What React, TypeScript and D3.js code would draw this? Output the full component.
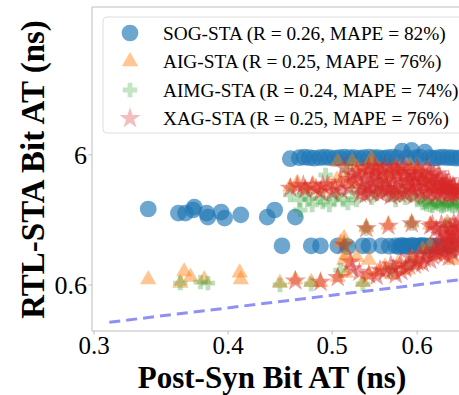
import { useEffect, useRef } from 'react';
import * as d3 from 'd3';

type Pt = [number, number];

// tick labels
const xTicks = [0.3, 0.4, 0.5, 0.6];
const yTicks = [0.6, 6];

const seriesNames = [
  'SOG-STA (R = 0.26, MAPE = 82%)',
  'AIG-STA (R = 0.25, MAPE = 76%)',
  'AIMG-STA (R = 0.24, MAPE = 74%)',
  'XAG-STA (R = 0.25, MAPE = 76%)',
];

// SOG-STA points (post-syn, rtl-sta)
const sogPts: Pt[] = [
  [0.457, 5.6], [0.466, 5.7], [0.471, 5.75], [0.476, 5.7], [0.481, 5.65], [0.487, 5.7],
  [0.492, 5.75], [0.497, 5.7], [0.503, 5.65], [0.508, 5.7], [0.513, 5.75], [0.519, 5.7],
  [0.524, 5.7], [0.53, 5.65], [0.535, 5.7], [0.541, 5.75], [0.547, 5.7], [0.552, 5.7],
  [0.558, 5.65], [0.563, 5.7], [0.569, 5.75], [0.575, 5.7], [0.581, 6.4], [0.587, 5.7],
  [0.593, 6.5], [0.598, 5.7], [0.604, 5.75], [0.61, 6.3], [0.616, 5.7], [0.622, 5.65],
  [0.628, 5.7], [0.634, 5.75], [0.64, 5.7], [0.646, 5.7], [0.652, 5.65], [0.658, 5.7],
  [0.337, 2.3], [0.3595, 2.14], [0.365, 2.14], [0.371, 2.26], [0.372, 2.38], [0.382, 2.14],
  [0.383, 1.99], [0.394, 2.18], [0.397, 1.96], [0.411, 2.07], [0.435, 1.99], [0.442, 2.26],
  [0.462, 1.99],
  [0.449, 1.2], [0.478, 1.2], [0.4876, 1.2], [0.506, 1.2], [0.517, 1.18], [0.534, 1.2],
  [0.541, 1.2], [0.556, 1.2], [0.565, 1.19], [0.573, 1.2], [0.577, 1.18], [0.58, 1.21],
  [0.583, 1.19], [0.586, 1.2], [0.59, 1.18], [0.593, 1.21], [0.596, 1.2], [0.599, 1.19],
  [0.603, 1.2], [0.606, 1.21], [0.609, 1.19], [0.612, 1.2], [0.616, 1.19], [0.619, 1.2],
  [0.625, 1.2], [0.632, 1.19], [0.639, 1.2], [0.646, 1.2],
];

// AIG-STA points
const aigPts: Pt[] = [
  [0.337, 0.66], [0.361, 0.62], [0.364, 0.76], [0.369, 0.69], [0.38, 0.66], [0.41, 0.745],
  [0.411, 0.66],
  [0.447, 0.62], [0.462, 0.66], [0.478, 0.63], [0.4876, 0.63], [0.506, 0.69], [0.515, 0.74],
  [0.513, 0.93], [0.534, 0.63], [0.509, 1.27], [0.515, 1.02], [0.513, 1.37], [0.527, 0.98],
  [0.541, 0.93], [0.551, 0.76], [0.56, 0.83], [0.569, 0.72], [0.576, 0.88], [0.585, 0.78],
  [0.593, 0.97], [0.6, 0.855], [0.541, 0.72], [0.607, 1.12], [0.617, 1.22], [0.63, 1.02],
  [0.64, 1.27], [0.647, 0.93], [0.654, 1.15],
  [0.538, 1.66], [0.564, 1.74], [0.593, 1.8], [0.617, 1.74], [0.64, 1.8],
  [0.457, 3.4], [0.464, 3.65], [0.472, 3.33], [0.48, 3.53], [0.4876, 3.23], [0.497, 3.53],
  [0.505, 3.85], [0.513, 4.0], [0.522, 3.6], [0.527, 4.8], [0.536, 4.5], [0.544, 5.0],
  [0.554, 4.6], [0.563, 4.2], [0.573, 4.8], [0.58, 4.5], [0.591, 4.95], [0.6, 4.6],
  [0.608, 4.05], [0.619, 3.53], [0.63, 3.35], [0.64, 3.53], [0.65, 3.23],
  [0.506, 5.3], [0.522, 5.3], [0.544, 5.6],
];

// AIMG-STA points
const aimgPts: Pt[] = [
  [0.457, 2.95], [0.466, 2.7], [0.472, 2.95], [0.479, 2.47], [0.4876, 2.8], [0.497, 2.47],
  [0.505, 2.95], [0.512, 2.7], [0.522, 3.1], [0.527, 2.7], [0.536, 3.23], [0.544, 2.8],
  [0.554, 3.53], [0.564, 2.95], [0.573, 2.7], [0.58, 3.23], [0.591, 2.95], [0.6, 2.7],
  [0.607, 2.55], [0.617, 2.47], [0.624, 2.55], [0.632, 2.42], [0.639, 2.5], [0.647, 2.42],
  [0.656, 2.5], [0.612, 2.5], [0.62, 2.42], [0.628, 2.5], [0.635, 2.45], [0.643, 2.5],
  [0.651, 2.45], [0.658, 2.42], [0.516, 4.6], [0.493, 4.2], [0.467, 2.26], [0.55, 3.0],
  [0.57, 3.1], [0.585, 2.8], [0.605, 2.9], [0.61, 2.6], [0.622, 2.6], [0.634, 2.55],
  [0.645, 2.58], [0.654, 2.55], [0.476, 2.75], [0.49, 2.6], [0.502, 2.75], [0.517, 2.55],
  [0.361, 0.62], [0.377, 0.63], [0.383, 0.62], [0.447, 0.6], [0.478, 0.61], [0.509, 0.78],
  [0.534, 0.61], [0.567, 0.78], [0.591, 0.88], [0.617, 1.02], [0.643, 1.12],
  [0.538, 1.63], [0.593, 1.77], [0.64, 1.74], [0.515, 1.22],
];

// XAG-STA points
const xagPts: Pt[] = [
  [0.457, 3.33], [0.464, 3.46], [0.472, 3.23], [0.479, 3.46], [0.4876, 3.1], [0.495, 3.53],
  [0.503, 3.33], [0.509, 3.7], [0.518, 3.33], [0.525, 3.85], [0.513, 4.8], [0.522, 4.2],
  [0.527, 4.5], [0.532, 3.53], [0.537, 2.95], [0.541, 4.8], [0.546, 3.85], [0.551, 3.1],
  [0.556, 4.5], [0.561, 3.53], [0.567, 2.9], [0.572, 4.8], [0.576, 3.85], [0.581, 3.1],
  [0.586, 4.6], [0.591, 3.65], [0.596, 2.9], [0.6, 4.8], [0.605, 3.85], [0.61, 3.1],
  [0.617, 4.5], [0.62, 3.53], [0.625, 2.95], [0.632, 3.33], [0.637, 3.7], [0.643, 3.1],
  [0.648, 3.46], [0.655, 2.95], [0.547, 4.2], [0.573, 3.33], [0.597, 4.15], [0.63, 4.05],
  [0.529, 4.1], [0.534, 4.7], [0.539, 3.4], [0.543, 3.1], [0.549, 4.6], [0.553, 3.6],
  [0.558, 4.0], [0.563, 3.2], [0.565, 4.7], [0.569, 3.7], [0.574, 4.3], [0.578, 3.0],
  [0.583, 4.1], [0.588, 3.4], [0.592, 4.4], [0.595, 3.2], [0.598, 3.9], [0.602, 3.4],
  [0.607, 4.3], [0.611, 3.6], [0.614, 2.95], [0.618, 4.0], [0.623, 3.3], [0.627, 3.8],
  [0.633, 3.0], [0.638, 3.4], [0.641, 2.9], [0.646, 3.2], [0.651, 3.1], [0.656, 3.3],
  [0.533, 3.2], [0.5, 3.1], [0.49, 3.5], [0.47, 3.5], [0.483, 3.3], [0.51, 3.2], [0.518, 3.9],
  [0.531, 3.0], [0.536, 3.9], [0.54, 4.4], [0.545, 3.3], [0.548, 4.9], [0.552, 4.2],
  [0.555, 3.0], [0.559, 4.8], [0.562, 3.8], [0.566, 3.3], [0.568, 4.4], [0.571, 3.0],
  [0.575, 4.6], [0.579, 3.6], [0.582, 4.9], [0.585, 3.0], [0.589, 4.2], [0.593, 3.4],
  [0.597, 3.7], [0.601, 4.4], [0.604, 3.1], [0.608, 3.7], [0.612, 4.7], [0.615, 3.4],
  [0.619, 3.1], [0.622, 4.2], [0.626, 3.5], [0.629, 3.1], [0.634, 3.6], [0.636, 3.2],
  [0.639, 3.6], [0.644, 3.4], [0.647, 2.95], [0.65, 3.35], [0.653, 3.0], [0.657, 3.15],
  [0.642, 3.8], [0.628, 4.3], [0.613, 4.0], [0.587, 3.8], [0.557, 3.3], [0.543, 3.7],
  [0.62, 1.74], [0.63, 1.45], [0.636, 1.63], [0.643, 1.33], [0.65, 1.59], [0.656, 1.85],
  [0.645, 1.12], [0.636, 1.02], [0.655, 1.22], [0.627, 1.12], [0.617, 0.93],
  [0.648, 1.35], [0.652, 1.45], [0.657, 1.6], [0.645, 1.5], [0.652, 1.7], [0.64, 1.4],
  [0.63, 1.3], [0.64, 1.2], [0.635, 1.08],
  [0.625, 1.6], [0.632, 1.75], [0.638, 1.5], [0.644, 1.65], [0.649, 1.8], [0.654, 1.4],
  [0.658, 1.3], [0.647, 1.25], [0.633, 1.2], [0.622, 1.1], [0.612, 1.05], [0.648, 1.05],
  [0.657, 1.1], [0.642, 0.98],
  [0.554, 0.78], [0.567, 0.855], [0.579, 0.88], [0.591, 0.97], [0.604, 1.02], [0.541, 0.72],
  [0.573, 0.72], [0.585, 0.8], [0.597, 0.855], [0.607, 0.88], [0.513, 1.22], [0.522, 0.8],
  [0.56, 0.76], [0.57, 0.8], [0.58, 0.76], [0.59, 0.84], [0.6, 0.9], [0.61, 0.95],
  [0.62, 1.0], [0.625, 1.05], [0.55, 0.7], [0.53, 0.75], [0.52, 0.9],
  [0.462, 0.645], [0.4876, 0.63], [0.506, 0.685],
  [0.538, 1.63], [0.564, 1.7], [0.593, 1.77], [0.617, 1.7],
];

// y = x reference line
const refLine: Pt[] = [[0.31, 0.31], [0.672, 0.672]];

const serif = '"Liberation Serif", "Times New Roman", Times, serif';

const App = () => {
  const svgRef = useRef<SVGSVGElement>(null);

  useEffect(() => {
    const width = 459;
    const height = 395;
    const left = 92, right = 470, top = 7, bottom = 331;

    const svg = d3.select(svgRef.current)
      .attr('width', width)
      .attr('height', height);
    svg.selectAll('*').remove();

    const x = d3.scaleLog().domain([0.2987, 0.672]).range([left, right]);
    const y = d3.scaleLog().domain([0.2655, 82.1]).range([bottom, top]);

    svg.append('rect').attr('width', width).attr('height', height).attr('fill', 'white');

    // ejes
    const spine = '#bdbdbd';
    svg.append('line').attr('x1', left).attr('x2', width).attr('y1', top).attr('y2', top).attr('stroke', spine);
    svg.append('line').attr('x1', left).attr('x2', width).attr('y1', bottom).attr('y2', bottom).attr('stroke', spine);
    svg.append('line').attr('x1', left).attr('x2', left).attr('y1', top).attr('y2', bottom).attr('stroke', spine);

    const xAxis = svg.append('g').attr('transform', `translate(0,${bottom})`);
    xTicks.forEach(t => {
      xAxis.append('line').attr('x1', x(t)).attr('x2', x(t)).attr('y1', 0).attr('y2', 3.5).attr('stroke', spine);
      xAxis.append('text')
        .attr('x', x(t)).attr('y', 23)
        .attr('text-anchor', 'middle')
        .style('font-family', serif)
        .style('font-size', '25px')
        .text(String(t));
    });

    const yAxis = svg.append('g').attr('transform', `translate(${left},0)`);
    yTicks.forEach(t => {
      yAxis.append('line').attr('x1', -3.5).attr('x2', 0).attr('y1', y(t)).attr('y2', y(t)).attr('stroke', spine);
      yAxis.append('text')
        .attr('x', -5).attr('y', y(t))
        .attr('dy', '0.35em')
        .attr('text-anchor', 'end')
        .style('font-family', serif)
        .style('font-size', '26px')
        .text(String(t));
    });

    // titulos
    svg.append('text')
      .attr('x', 272).attr('y', 388)
      .attr('text-anchor', 'middle')
      .style('font-family', serif)
      .style('font-size', '31px')
      .style('font-weight', 'bold')
      .text('Post-Syn Bit AT (ns)');

    svg.append('text')
      .attr('transform', `translate(44,${(12 + 327) / 2}) rotate(-90)`)
      .attr('text-anchor', 'middle')
      .style('font-family', serif)
      .style('font-size', '33px')
      .style('font-weight', 'bold')
      .text('RTL-STA Bit AT (ns)');

    // puntos
    const plot = svg.append('g');
    const series = [
      { pts: sogPts, type: d3.symbolCircle, size: 220, color: '#1f77b4', alpha: 0.65, legendAlpha: 0.65 },
      { pts: aigPts, type: d3.symbolTriangle, size: 115, color: '#ff7f0e', alpha: 0.45, legendAlpha: 0.45 },
      { pts: aimgPts, type: d3.symbolCross, size: 115, color: '#2ca02c', alpha: 0.32, legendAlpha: 0.28 },
      { pts: xagPts, type: d3.symbolStar, size: 140, color: '#d62728', alpha: 0.45, legendAlpha: 0.3 },
    ];
    series.forEach(s => {
      const sym = d3.symbol().type(s.type).size(s.size);
      plot.selectAll(null)
        .data(s.pts)
        .enter().append('path')
        .attr('d', sym)
        .attr('transform', d => `translate(${x(d[0])},${y(d[1])})`)
        .attr('fill', s.color)
        .attr('fill-opacity', s.alpha);
    });

    // linea y = x
    const line = d3.line<Pt>().x(d => x(d[0])).y(d => y(d[1]));
    svg.append('path')
      .datum(refLine)
      .attr('fill', 'none')
      .attr('stroke', '#6b6bf0')
      .attr('stroke-opacity', 0.75)
      .attr('stroke-width', 3)
      .attr('stroke-dasharray', '11,6')
      .attr('d', line);

    // leyenda
    const lg = svg.append('g');
    lg.append('rect')
      .attr('x', 103).attr('y', 17).attr('width', 370).attr('height', 116)
      .attr('rx', 4)
      .attr('fill', 'white').attr('fill-opacity', 0.8)
      .attr('stroke', '#dddddd');
    series.forEach((s, i) => {
      const cy = 33 + i * 28.5;
      lg.append('path')
        .attr('d', d3.symbol().type(s.type).size(s.size)())
        .attr('transform', `translate(130,${cy})`)
        .attr('fill', s.color)
        .attr('fill-opacity', s.legendAlpha);
      lg.append('text')
        .attr('x', 163).attr('y', cy)
        .attr('dy', '0.35em')
        .style('font-family', serif)
        .style('font-size', '19.3px')
        .text(seriesNames[i]);
    });
  }, []);

  return (
    <svg ref={svgRef} style={{ position: 'absolute', left: 0, top: 0 }}></svg>
  );
};

export default App;
